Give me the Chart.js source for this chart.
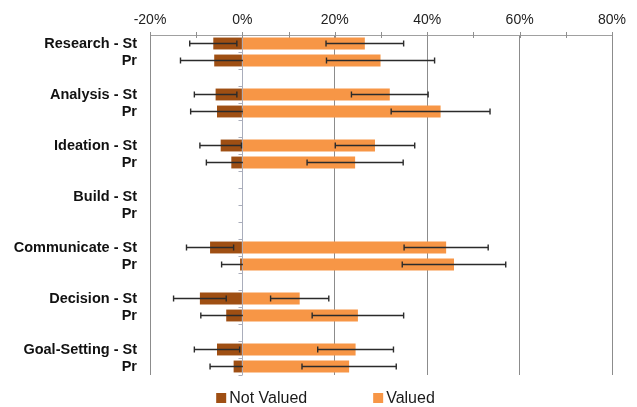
<!DOCTYPE html>
<html>
<head>
<meta charset="utf-8">
<script src="https://cdn.jsdelivr.net/npm/chart.js@4/dist/chart.umd.min.js"></script>
<style>
  html, body { margin: 0; padding: 0; background: #fff; }
  #wrap { width: 637px; height: 407px; position: relative; }
</style>
</head>
<body>
<div id="wrap"><canvas id="c" width="637" height="407"></canvas></div>
<script>
// Rows: each activity has a Student (St) and Professional (Pr) row, with a blank spacer row between groups
const rowLabels = [
  'Research - St', 'Pr', '',
  'Analysis - St', 'Pr', '',
  'Ideation - St', 'Pr', '',
  'Build - St', 'Pr', '',
  'Communicate - St', 'Pr', '',
  'Decision - St', 'Pr', '',
  'Goal-Setting - St', 'Pr'
];

// Share (%) that did not value the activity (plotted to the left of zero)
const notValued = [
  -6.3, -6.1, null,
  -5.8, -5.5, null,
  -4.7, -2.4, null,
  null, null, null,
  -7.0, -0.5, null,
  -9.2, -3.5, null,
  -5.5, -1.9
];
const notValuedErr = [
  5.1, 7.3, null,
  4.6, 5.7, null,
  4.5, 5.4, null,
  null, null, null,
  5.1, 4.0, null,
  5.7, 5.5, null,
  4.9, 5.1
];

// Share (%) that valued the activity
const valued = [
  26.5, 29.9, null,
  31.9, 42.9, null,
  28.7, 24.4, null,
  null, null, null,
  44.1, 45.8, null,
  12.4, 25.0, null,
  24.5, 23.1
];
const valuedErr = [
  8.4, 11.7, null,
  8.3, 10.7, null,
  8.6, 10.4, null,
  null, null, null,
  9.1, 11.2, null,
  6.3, 9.9, null,
  8.2, 10.2
];

const xTicks = [-20, 0, 20, 40, 60, 80];

const DARK = '#9f4f13';
const LIGHT = '#f79646';
const FONT = '"Liberation Sans", Arial, Helvetica, sans-serif';

// Error bars drawn right after each dataset so later bars can cover them
const errorBars = {
  id: 'errorBars',
  afterDatasetDraw(chart, args) {
    const ds = chart.data.datasets[args.index];
    const errs = ds.errors;
    if (!errs) return;
    const meta = args.meta;
    const xs = chart.scales.x;
    const ctx = chart.ctx;
    ctx.save();
    ctx.strokeStyle = '#2b2b2b';
    ctx.lineWidth = 1.4;
    meta.data.forEach((el, j) => {
      const v = ds.data[j];
      const e = errs[j];
      if (v == null || e == null) return;
      const x1 = xs.getPixelForValue(v - e);
      const x2 = xs.getPixelForValue(v + e);
      const y = el.y;
      ctx.beginPath();
      ctx.moveTo(x1, y); ctx.lineTo(x2, y);
      ctx.moveTo(x1, y - 3); ctx.lineTo(x1, y + 3);
      ctx.moveTo(x2, y - 3); ctx.lineTo(x2, y + 3);
      ctx.stroke();
    });
    ctx.restore();
  }
};

// Category axis at zero with boundary ticks, plus minor/major tick marks on the top value axis
const axisMarks = {
  id: 'axisMarks',
  beforeDatasetsDraw(chart) {
    const ctx = chart.ctx;
    const xs = chart.scales.x;
    const area = chart.chartArea;
    const x0 = Math.round(xs.getPixelForValue(0)) + 0.5;
    ctx.save();
    ctx.strokeStyle = '#a9adbb';
    ctx.lineWidth = 1;
    ctx.beginPath();
    ctx.moveTo(x0, area.top);
    ctx.lineTo(x0, area.bottom);
    const n = chart.data.labels.length;
    const step = (area.bottom - area.top) / n;
    for (let i = 0; i <= n; i++) {
      const y = Math.round(area.top + i * step) + 0.5;
      ctx.moveTo(x0 - 4, y);
      ctx.lineTo(x0, y);
    }
    ctx.stroke();

    ctx.strokeStyle = '#8f8f8f';
    ctx.beginPath();
    for (let v = xs.min; v <= xs.max; v += 10) {
      const x = Math.round(xs.getPixelForValue(v)) + 0.5;
      ctx.moveTo(x, area.top - 3);
      ctx.lineTo(x, area.top + 3);
    }
    ctx.stroke();
    ctx.restore();
  }
};

// Legend row beneath the plot
const bottomLegend = {
  id: 'bottomLegend',
  afterDraw(chart) {
    const ctx = chart.ctx;
    ctx.save();
    ctx.font = '16px ' + FONT;
    ctx.textBaseline = 'middle';
    const items = [chart.data.datasets[0], chart.data.datasets[1]];
    const box = 10, gapBox = 3, gapItem = 66;
    const widths = items.map(d => ctx.measureText(d.label).width);
    const total = widths.reduce((a, w) => a + box + gapBox + w, 0) + gapItem;
    let x = chart.width / 2 + 7 - total / 2;
    const y = 398;
    items.forEach((d, i) => {
      ctx.fillStyle = d.backgroundColor;
      ctx.fillRect(x, y - 5, box, box);
      x += box + gapBox;
      ctx.fillStyle = '#1a1a1a';
      ctx.fillText(d.label, x, y + 1);
      x += widths[i] + gapItem;
    });
    ctx.restore();
  }
};

new Chart(document.getElementById('c'), {
  type: 'bar',
  data: {
    labels: rowLabels,
    datasets: [
      {
        label: 'Not Valued',
        data: notValued,
        errors: notValuedErr,
        backgroundColor: DARK,
        order: 2,
        barPercentage: 0.7,
        categoryPercentage: 1.0
      },
      {
        label: 'Valued',
        data: valued,
        errors: valuedErr,
        backgroundColor: LIGHT,
        order: 1,
        barPercentage: 0.7,
        categoryPercentage: 1.0
      }
    ]
  },
  plugins: [axisMarks, errorBars, bottomLegend],
  options: {
    indexAxis: 'y',
    responsive: false,
    animation: false,
    layout: { padding: { left: 0, right: 25, top: 0, bottom: 32 } },
    plugins: {
      legend: { display: false },
      tooltip: { enabled: false }
    },
    scales: {
      x: {
        position: 'top',
        stacked: true,
        min: -20,
        max: 80,
        afterBuildTicks(scale) {
          scale.ticks = xTicks.map(v => ({ value: v }));
        },
        afterFit(scale) { scale.height = 35; },
        ticks: {
          callback: v => v + '%',
          padding: 6,
          color: '#222',
          font: { family: FONT, size: 14 }
        },
        grid: {
          drawTicks: false,
          lineWidth: 1,
          color: ctx => (ctx.tick && ctx.tick.value === 0) ? 'rgba(0,0,0,0)' : '#8c8c8c'
        },
        border: { display: true, color: '#a0a0a0' }
      },
      y: {
        stacked: true,
        afterFit(scale) { scale.width = 150; },
        grid: { display: false, drawTicks: false },
        border: { display: false },
        ticks: {
          autoSkip: false,
          padding: 13,
          color: '#111',
          font: { family: FONT, size: 14.5, weight: 'bold' }
        }
      }
    }
  }
});
</script>
</body>
</html>
